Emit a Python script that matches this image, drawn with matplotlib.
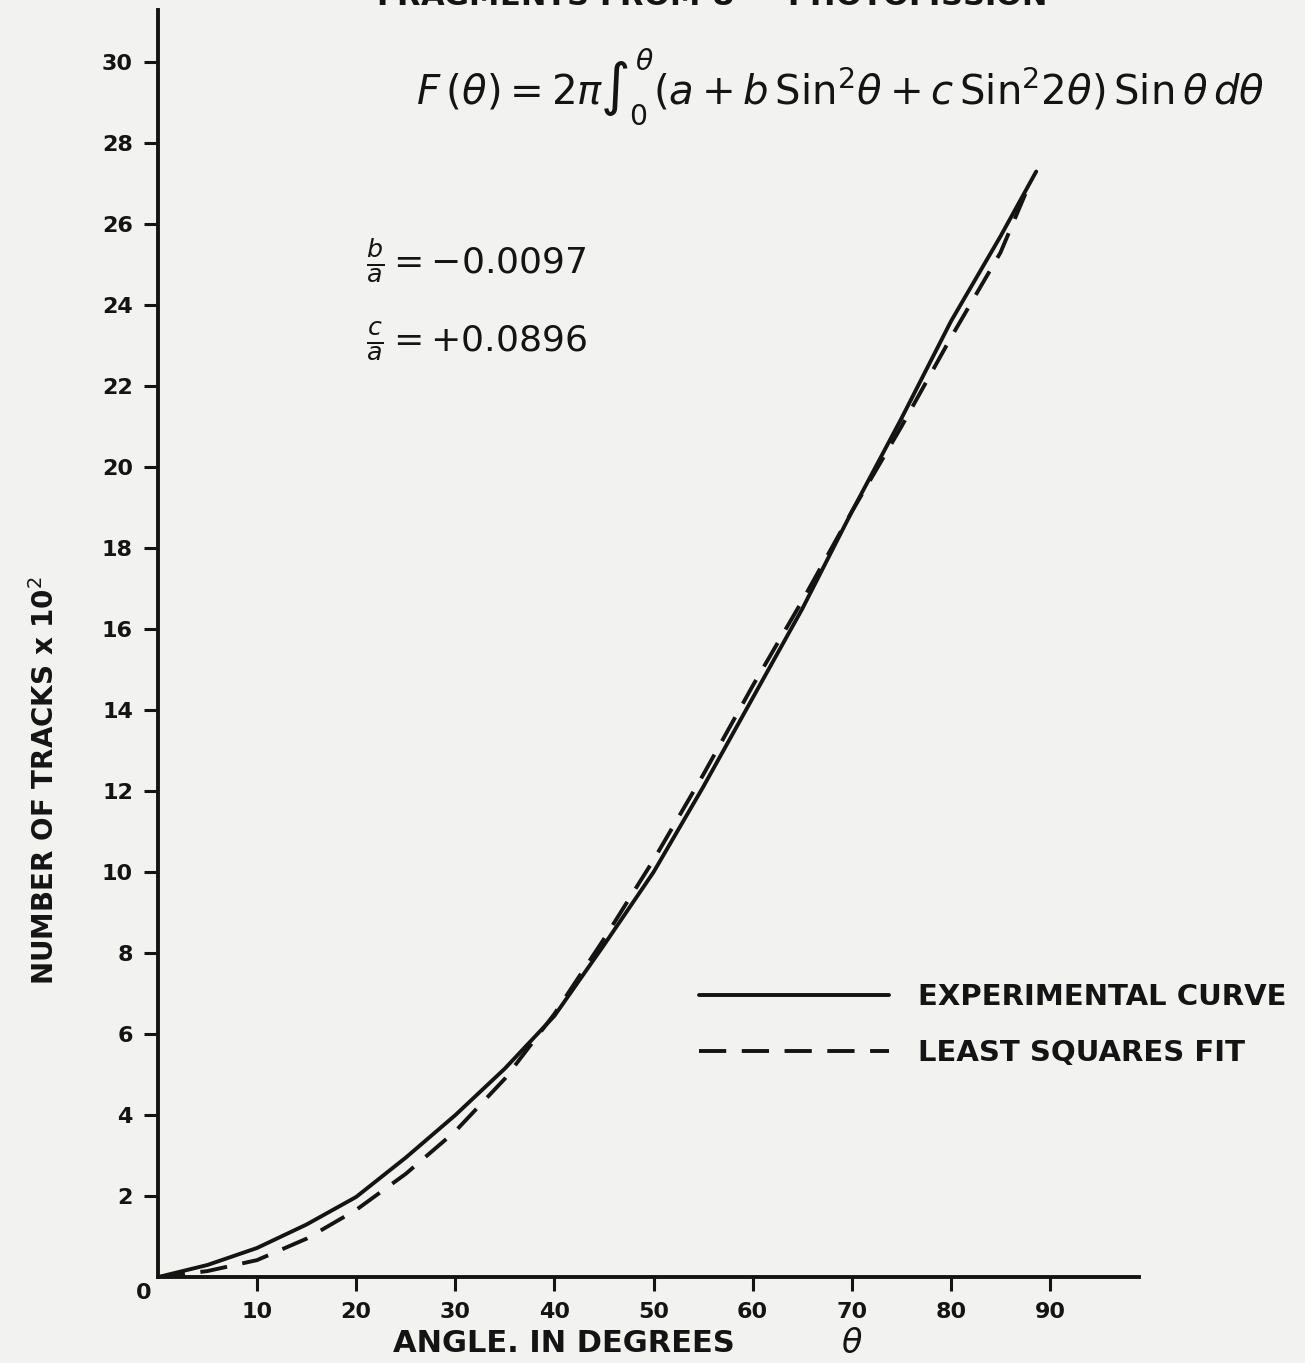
import matplotlib
matplotlib.use("Agg")
import matplotlib.pyplot as plt

# angle in degrees, tracks x 10^2
angle_exp = [0, 5, 10, 15, 20, 25, 30, 35, 40, 45, 50, 55, 60, 65, 70, 75, 80, 85, 88.6]
tracks_exp = [0, 0.3, 0.72, 1.3, 1.98, 2.95, 4.0, 5.15, 6.45, 8.2, 10.0, 12.1, 14.3, 16.5, 18.9, 21.2, 23.6, 25.7, 27.3]

angle_fit = [0, 5, 10, 15, 20, 25, 30, 35, 40, 45, 50, 55, 60, 65, 70, 75, 80, 85, 87.6]
tracks_fit = [0, 0.15, 0.42, 0.95, 1.66, 2.55, 3.6, 4.9, 6.5, 8.35, 10.3, 12.4, 14.6, 16.7, 18.9, 21.0, 23.2, 25.3, 26.8]

xticks = [10, 20, 30, 40, 50, 60, 70, 80, 90]
yticks = [2, 4, 6, 8, 10, 12, 14, 16, 18, 20, 22, 24, 26, 28, 30]

ink = "#141414"
paper = "#f2f2f0"

plt.rcParams['font.family'] = ['DejaVu Sans']

fig = plt.figure(figsize=(13.05, 13.63), dpi=100, facecolor=paper)
ax = fig.add_axes([0.121, 0.063, 0.752, 0.93])
ax.set_facecolor(paper)

ax.plot(angle_exp, tracks_exp, color=ink, lw=2.8, solid_capstyle='round',
        label='EXPERIMENTAL CURVE')
ax.plot(angle_fit, tracks_fit, color=ink, lw=2.8, linestyle=(0, (7, 4)),
        label='LEAST SQUARES FIT')

ax.set_xlim(0, 99)
ax.set_ylim(0, 31.3)

for s in ['top', 'right']:
    ax.spines[s].set_visible(False)
for s in ['left', 'bottom']:
    ax.spines[s].set_linewidth(2.8)
    ax.spines[s].set_color(ink)

ax.set_xticks(xticks)
ax.set_yticks(yticks)
ax.tick_params(axis='both', direction='out', length=10, width=2.2, color=ink,
               labelsize=16, labelcolor=ink, pad=8)
for lbl in ax.get_xticklabels() + ax.get_yticklabels():
    lbl.set_fontweight('bold')

ax.text(-0.6, -0.15, '0', ha='right', va='top', fontsize=16, fontweight='bold',
        color=ink, clip_on=False)

# axis titles
ax.text(41.0, -0.052, 'ANGLE. IN DEGREES', transform=ax.get_xaxis_transform(),
        ha='center', va='center', fontsize=22, fontweight='bold', color=ink)
ax.text(70.0, -0.052, r'$\theta$', transform=ax.get_xaxis_transform(),
        ha='center', va='center', fontsize=24, fontweight='bold', color=ink)
ax.set_ylabel('NUMBER OF TRACKS x 10$^2$', fontsize=20, fontweight='bold',
              color=ink)
ax.yaxis.set_label_coords(-0.1, 0.392)

# cut-off title at the top edge of the scan
fig.text(0.545, 0.995, 'FRAGMENTS FROM U$^{238}$ PHOTOFISSION', ha='center',
         va='baseline', fontsize=22, fontweight='bold', color=ink)

ax.text(26.0, 29.4,
        r'$F\,(\theta) = 2\pi\int_0^{\theta}(a + b\,\mathrm{Sin}^2\theta + c\,\mathrm{Sin}^2 2\theta)\,\mathrm{Sin}\,\theta\,d\theta$',
        fontsize=29, color=ink, va='center', ha='left')
ax.text(21.0, 25.1, r'$\frac{b}{a} = -0.0097$', fontsize=26, color=ink,
        va='center', ha='left')
ax.text(21.0, 23.1, r'$\frac{c}{a} = +0.0896$', fontsize=26, color=ink,
        va='center', ha='left')

leg = ax.legend(loc='lower left', bbox_to_anchor=(0.525, 0.145), frameon=False,
                fontsize=21, handlelength=6.5, handletextpad=1.0,
                labelspacing=0.95, labelcolor=ink)
for t in leg.get_texts():
    t.set_fontweight('bold')

fig.savefig('out.png', dpi=100, facecolor=paper)
